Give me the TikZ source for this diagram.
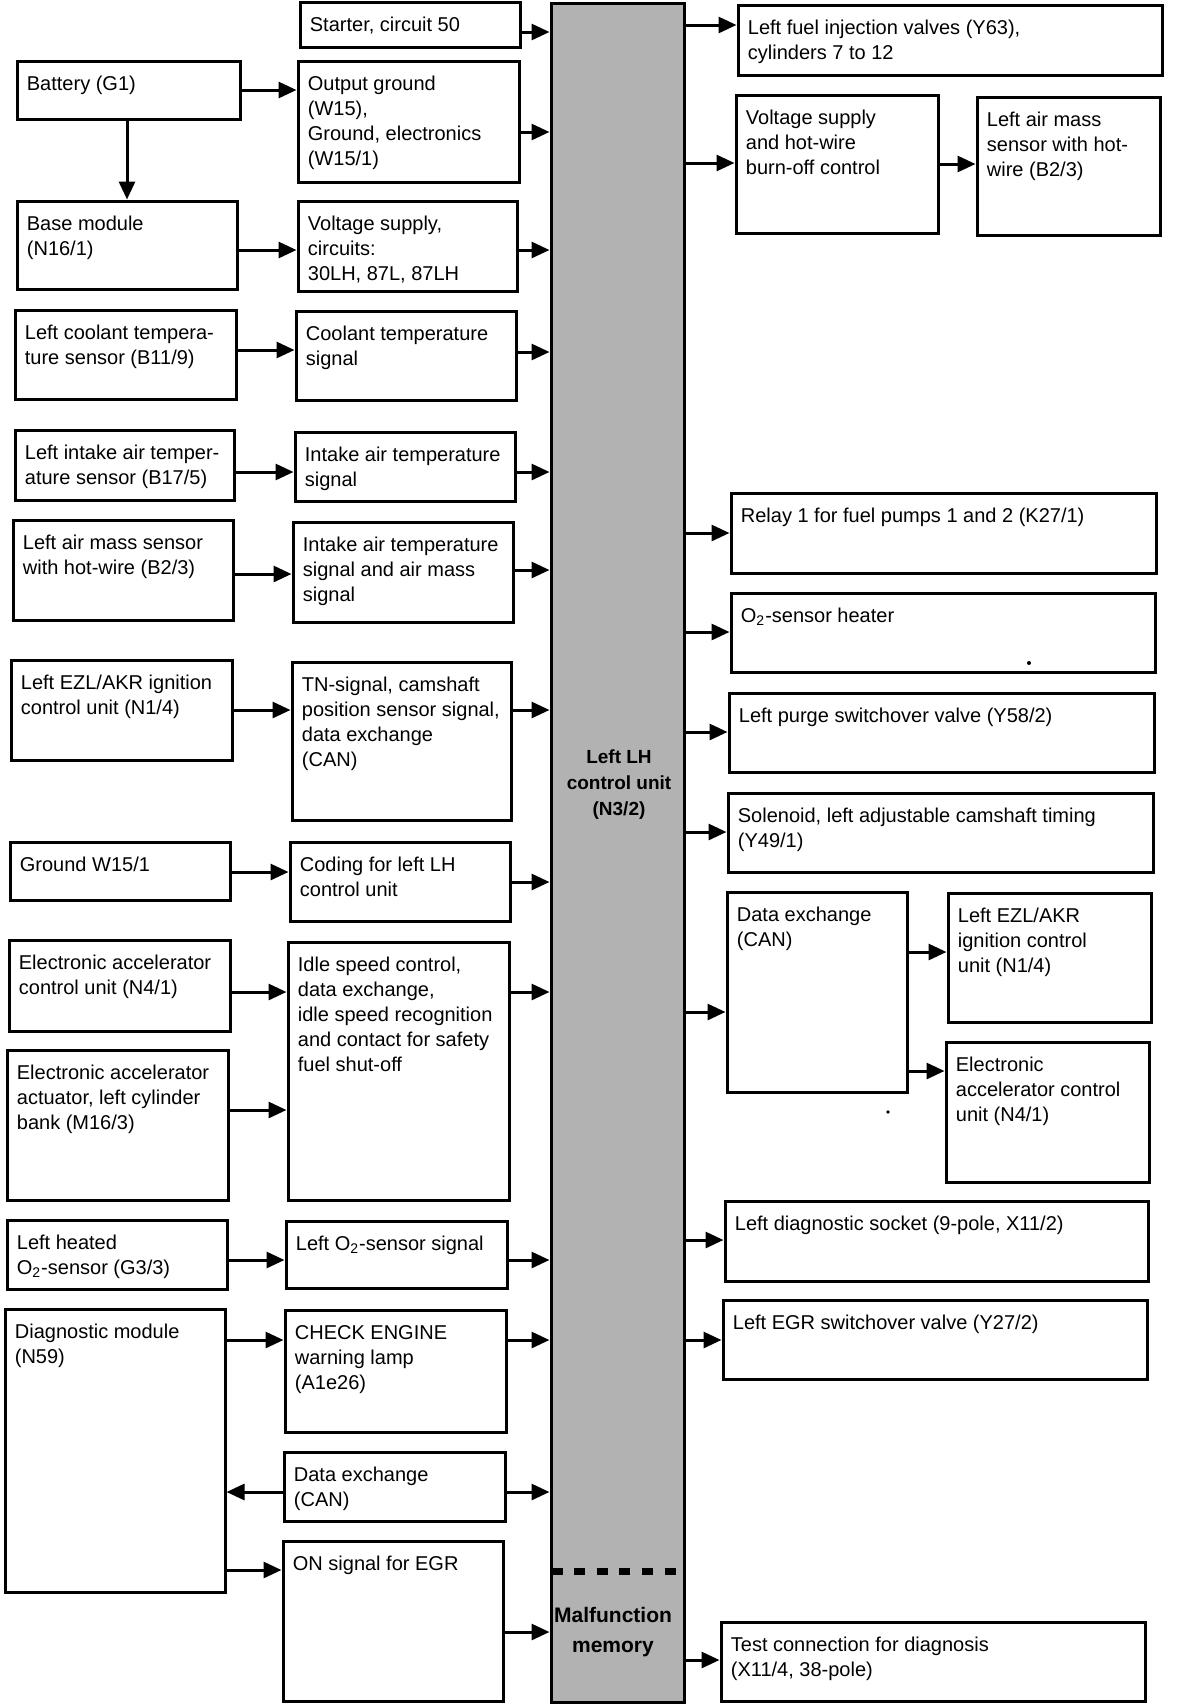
\documentclass[tikz,border=0pt]{standalone}
\usepackage{fontspec}
\setmainfont{Liberation Sans}
\usetikzlibrary{fit,arrows.meta}
\tikzset{
  boxst/.style={draw, line width=1.5pt, inner sep=0pt},
  txt/.style={font=\fontsize{10pt}{12.5pt}\selectfont, align=left, inner sep=0pt, anchor=north west},
  arr/.style={line width=1.5pt, -{Triangle[length=9pt,width=8pt]}},
  barst/.style={draw, line width=1.5pt, inner sep=0pt, fill=black!30},
  bartxt/.style={font=\fontsize{9.5pt}{13pt}\selectfont\bfseries, align=center, inner sep=0pt},
  memtxt/.style={font=\fontsize{10.5pt}{15pt}\selectfont\bfseries, align=center, inner sep=0pt},
  dashline/.style={line width=3.5pt, dash pattern=on 5.5pt off 5.8pt},
  speck/.style={fill=black}
}
\newcommand\bx[6]{%
  \node[fit={(#2,#3) (#4,#5)}, boxst] (#1) {};
  \node[txt] (#1t) at ([shift={(11,13.5)}]#1.north west) {\strut #6};
}
\newcommand\hc[3]{\draw[arr] (#1.east |- 0,#3) -- (#2.west |- 0,#3);}
\begin{document}
\begin{tikzpicture}[x=0.5pt,y=-0.5pt]
\useasboundingbox (0,0) rectangle (1184,1704);
% central bar
\node[fit={(551,3) (684,1702)}, barst] (bar) {};
\node[bartxt] (barlbl) at (619,785) {Left LH\\control unit\\(N3/2)};
\node[memtxt] (memlbl) at (613,1632) {Malfunction\\memory};
\draw[dashline, shorten <=1pt, shorten >=3pt] (bar.west |- 0,1571) -- (bar.east |- 0,1571);
% left column
\bx{bat}{17}{61}{240}{119}{Battery (G1)}
\bx{base}{17}{201}{237}{289}{Base module\\(N16/1)}
\bx{lcool}{15}{310}{236}{399}{Left coolant tempera-\\ture sensor (B11/9)}
\bx{lint}{15}{430}{234}{500}{Left intake air temper-\\ature sensor (B17/5)}
\bx{lair}{13}{520}{233}{620}{Left air mass sensor\\with hot-wire (B2/3)}
\bx{lezl}{11}{660}{232}{760}{Left EZL/AKR ignition\\control unit (N1/4)}
\bx{gnd}{10}{842}{230}{900}{Ground W15/1}
\bx{eacc}{9}{940}{230}{1031}{Electronic accelerator\\control unit (N4/1)}
\bx{eact}{7}{1050}{228}{1200}{Electronic accelerator\\actuator, left cylinder\\bank (M16/3)}
\bx{lo2}{7}{1220}{227}{1289}{Left heated\\O\textsubscript{2}-sensor (G3/3)}
\bx{diag}{5}{1309}{225}{1592}{Diagnostic module\\(N59)}
% middle column
\bx{start}{300}{2}{520}{47}{Starter, circuit 50}
\bx{og}{298}{61}{519}{182}{Output ground\\(W15),\\Ground, electronics\\(W15/1)}
\bx{vs}{298}{201}{517}{291}{Voltage supply,\\circuits:\\30LH, 87L, 87LH}
\bx{cts}{296}{311}{516}{400}{Coolant temperature\\signal}
\bx{ias}{295}{432}{515}{501}{Intake air temperature\\signal}
\bx{iam}{293}{522}{513}{622}{Intake air temperature\\signal and air mass\\signal}
\bx{tn}{292}{662}{511}{820}{TN-signal, camshaft\\position sensor signal,\\data exchange\\(CAN)}
\bx{cod}{290}{842}{510}{921}{Coding for left LH\\control unit}
\bx{idle}{288}{942}{509}{1200}{Idle speed control,\\data exchange,\\idle speed recognition\\and contact for safety\\fuel shut-off}
\bx{o2s}{286}{1221}{507}{1288}{Left O\textsubscript{2}-sensor signal}
\bx{chk}{285}{1310}{506}{1432}{CHECK ENGINE\\warning lamp\\(A1e26)}
\bx{canl}{284}{1452}{505}{1521}{Data exchange\\(CAN)}
\bx{egron}{283}{1541}{503}{1701}{ON signal for EGR}
% right column
\bx{fuel}{738}{5}{1162}{75}{Left fuel injection valves (Y63),\\cylinders 7 to 12}
\bx{vhw}{736}{95}{938}{233}{Voltage supply\\and hot-wire\\burn-off control}
\bx{rair}{977}{97}{1160}{235}{Left air mass\\sensor with hot-\\wire (B2/3)}
\bx{relay}{731}{493}{1156}{573}{Relay 1 for fuel pumps 1 and 2 (K27/1)}
\bx{o2h}{731}{593}{1155}{672}{O\textsubscript{2}-sensor heater}
\bx{purge}{729}{693}{1154}{772}{Left purge switchover valve (Y58/2)}
\bx{sol}{728}{793}{1153}{872}{Solenoid, left adjustable camshaft timing\\(Y49/1)}
\bx{canr}{727}{892}{907}{1092}{Data exchange\\(CAN)}
\bx{rezl}{948}{893}{1151}{1022}{Left EZL/AKR\\ignition control\\unit (N1/4)}
\bx{racc}{946}{1042}{1149}{1182}{Electronic\\accelerator control\\unit (N4/1)}
\bx{dsock}{725}{1201}{1148}{1281}{Left diagnostic socket (9-pole, X11/2)}
\bx{egr}{723}{1300}{1147}{1379}{Left EGR switchover valve (Y27/2)}
\bx{test}{721}{1622}{1145}{1701}{Test connection for diagnosis\\(X11/4, 38-pole)}
% specks printed in the scan
\fill[speck] (1029,663) circle (1pt);
\fill[speck] (888,1112) circle (0.9pt);
% connectors left -> middle
\hc{bat}{og}{90}
\draw[arr] (bat.south -| 127,0) -- (base.north -| 127,0);
\hc{base}{vs}{250}
\hc{lcool}{cts}{350}
\hc{lint}{ias}{472}
\hc{lair}{iam}{574}
\hc{lezl}{tn}{710}
\hc{gnd}{cod}{872}
\hc{eacc}{idle}{992}
\hc{eact}{idle}{1110}
\hc{lo2}{o2s}{1260}
\hc{diag}{chk}{1340}
\draw[arr] (canl.west |- 0,1492) -- (diag.east |- 0,1492);
\hc{diag}{egron}{1570}
% middle -> bar
\hc{start}{bar}{32}
\hc{og}{bar}{132}
\hc{vs}{bar}{250}
\hc{cts}{bar}{352}
\hc{ias}{bar}{472}
\hc{iam}{bar}{570}
\hc{tn}{bar}{710}
\hc{cod}{bar}{882}
\hc{idle}{bar}{992}
\hc{o2s}{bar}{1260}
\hc{chk}{bar}{1340}
\hc{canl}{bar}{1492}
\hc{egron}{bar}{1632}
% bar -> right
\hc{bar}{fuel}{25}
\hc{bar}{vhw}{163}
\hc{vhw}{rair}{164}
\hc{bar}{relay}{533}
\hc{bar}{o2h}{632}
\hc{bar}{purge}{732}
\hc{bar}{sol}{832}
\hc{bar}{canr}{1012}
\hc{canr}{rezl}{952}
\hc{canr}{racc}{1071}
\hc{bar}{dsock}{1240}
\hc{bar}{egr}{1340}
\hc{bar}{test}{1660}
\end{tikzpicture}
\end{document}
